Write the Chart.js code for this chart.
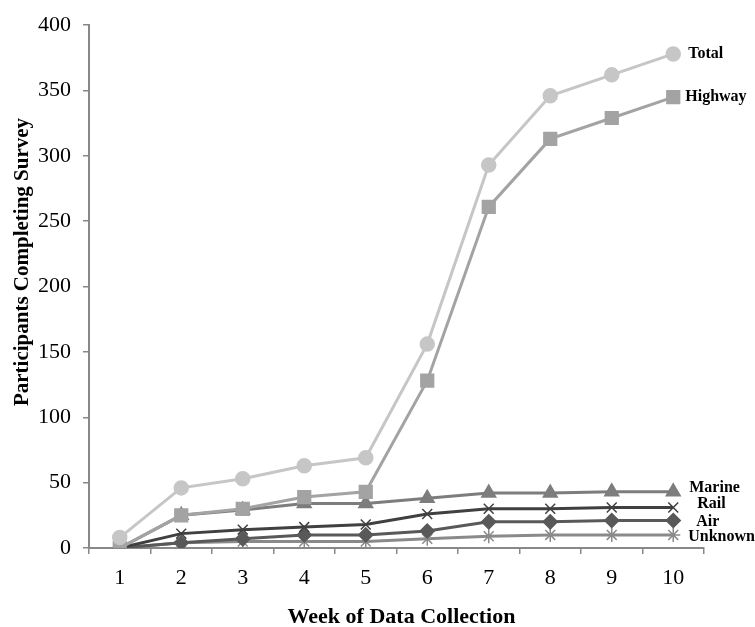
<!DOCTYPE html>
<html><head><meta charset="utf-8">
<script src="https://cdn.jsdelivr.net/npm/chart.js@4/dist/chart.umd.min.js"></script>
<style>html,body{margin:0;padding:0;background:#fff;}#wrap{width:755px;height:627px;}</style>
</head><body><div id="wrap"><canvas id="c" width="755" height="627"></canvas></div>
<script>
const weeks = ['1','2','3','4','5','6','7','8','9','10'];
const total   = [8, 46, 53, 63, 69, 156, 293, 346, 362, 378];
const highway = [0, 25, 30, 39, 43, 128, 261, 313, 329, 345];
const marine  = [0, 25, 29, 34, 34, 38, 42, 42, 43, 43];
const rail    = [0, 11, 14, 16, 18, 26, 30, 30, 31, 31];
const air     = [0, 4, 7, 10, 10, 13, 20, 20, 21, 21];
const unknown = [0, 4, 5, 5, 5, 7, 9, 10, 10, 10];
const yTicks  = [0, 50, 100, 150, 200, 250, 300, 350, 400];
const xTitle = 'Week of Data Collection';
const yTitle = 'Participants Completing Survey';

function ds(label, data, color, style, r, endOffset) {
  return { label, data, borderColor: color, backgroundColor: color, pointStyle: style,
    pointRadius: r, pointHoverRadius: r, borderWidth: 3, pointBorderWidth: 1.5, tension: 0,
    endOffset };
}
const endLabels = {
  id: 'endLabels',
  afterDatasetsDraw(chart) {
    const ctx = chart.ctx;
    ctx.save();
    ctx.font = 'bold 16px "Liberation Serif", serif';
    ctx.fillStyle = '#000';
    ctx.textBaseline = 'middle';
    chart.data.datasets.forEach((d, i) => {
      const meta = chart.getDatasetMeta(i);
      const p = meta.data[meta.data.length - 1];
      ctx.fillText(d.label, p.x + d.endOffset[0], p.y + d.endOffset[1]);
    });
    // axis titles
    ctx.font = 'bold 22px "Liberation Serif", serif';
    ctx.textAlign = 'center';
    const a = chart.chartArea;
    ctx.fillText(xTitle, (a.left + a.right) / 2 + 5, 617);
    ctx.font = 'bold 21px "Liberation Serif", serif';
    ctx.translate(23, 262);
    ctx.rotate(-Math.PI / 2);
    ctx.fillText(yTitle, 0, 0);
    ctx.restore();
  }
};
new Chart(document.getElementById('c'), {
  type: 'line',
  data: { labels: weeks, datasets: [
    ds('Total', total, '#c6c6c6', 'circle', 7, [15, 0]),
    ds('Highway', highway, '#a3a3a3', 'rect', 9, [12, 0]),
    ds('Marine', marine, '#7d7d7d', 'triangle', 8, [16, -4]),
    ds('Rail', rail, '#404040', 'crossRot', 7, [24, -4]),
    ds('Air', air, '#595959', 'rectRot', 7, [23, 1]),
    ds('Unknown', unknown, '#8a8a8a', 'star', 7, [15, 2])
  ]},
  options: {
    responsive: false, animation: false,
    layout: { padding: { left: 10, right: 51, top: 22, bottom: 0 } },
    plugins: { legend: { display: false }, tooltip: { enabled: false } },
    scales: {
      x: {
        offset: true,
        grid: { display: true, drawOnChartArea: false, offset: true, tickLength: 6, color: '#888', lineWidth: 1.5 },
        border: { color: '#888', width: 2 },
        ticks: { color: '#000', padding: 11, font: { family: '"Liberation Serif", serif', size: 22 } },
        title: { display: false, text: xTitle },
        afterFit(s) { s.height = 79; }
      },
      y: {
        min: 0, max: 400,
        afterBuildTicks(s) { s.ticks = yTicks.map(v => ({ value: v })); },
        grid: { display: true, drawOnChartArea: false, tickLength: 6, color: '#888', lineWidth: 1.5 },
        border: { color: '#888', width: 2 },
        ticks: { color: '#000', padding: 12, font: { family: '"Liberation Serif", serif', size: 22 } },
        title: { display: false, text: yTitle },
        afterFit(s) { s.width = 79; }
      }
    }
  },
  plugins: [endLabels]
});
</script></body></html>
